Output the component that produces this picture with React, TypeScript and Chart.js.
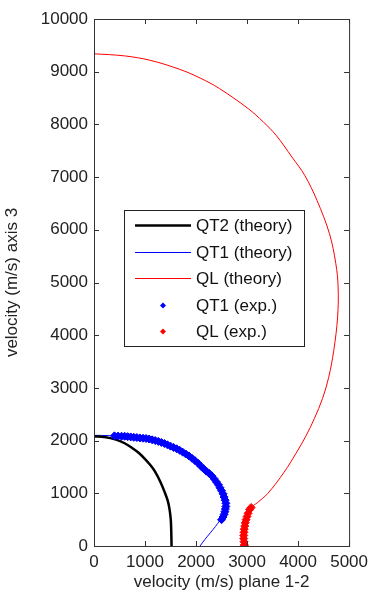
import { useEffect, useRef } from "react";
import { Chart, registerables } from "chart.js";

Chart.register(...registerables);

const xTicks = [0, 1000, 2000, 3000, 4000, 5000];
const yTicks = [0, 1000, 2000, 3000, 4000, 5000, 6000, 7000, 8000, 9000, 10000];

const qt2X = [0, 200, 431, 600, 748, 880, 1001, 1100, 1191, 1300, 1390, 1445, 1480, 1505, 1515, 1520];
const qt2Y = [2080, 2068, 2019, 1950, 1860, 1765, 1650, 1540, 1420, 1220, 1010, 860, 700, 500, 250, 0];

const qt1X = [0, 300, 621, 850, 1065, 1250, 1382, 1500, 1635, 1760, 1888, 2020, 2142, 2250, 2332, 2400, 2459, 2510, 2553, 2580, 2575, 2540, 2470, 2380, 2280, 2170, 2078];
const qt1Y = [2100, 2095, 2081, 2060, 2037, 1990, 1943, 1890, 1835, 1770, 1689, 1590, 1468, 1390, 1309, 1220, 1120, 1030, 930, 800, 690, 590, 490, 370, 250, 120, 0];

const qlX = [0, 600, 1101, 1677, 2080, 2460, 3022, 3319, 3570, 3880, 4130, 4370, 4615, 4740, 4785, 4775, 4700, 4600, 4480, 4320, 4150, 3960, 3726, 3409, 3200, 3093, 3010, 2965, 2950];
const qlY = [9340, 9300, 9216, 9046, 8880, 8679, 8300, 8046, 7793, 7381, 7034, 6560, 5928, 5359, 4915, 4345, 3713, 3200, 2800, 2420, 2080, 1760, 1400, 1000, 820, 740, 560, 300, 0];

const qt1ExpX = [400, 470, 540, 600, 660, 720, 780, 840, 900, 960, 1020, 1080, 1140, 1200, 1260, 1320, 1380, 1440, 1500, 1560, 1620, 1680, 1740, 1800, 1860, 1920, 1980, 2040, 2100, 2150, 2200, 2260, 2310, 2360, 2400, 2440, 2470, 2500, 2530, 2550, 2570, 2585, 2585, 2575, 2565, 2550, 2530, 2500];
const qt1ExpY = [2090, 2085, 2083, 2082, 2075, 2070, 2062, 2058, 2050, 2045, 2040, 2030, 2015, 2000, 1985, 1965, 1945, 1920, 1895, 1870, 1845, 1815, 1780, 1745, 1710, 1665, 1620, 1570, 1510, 1465, 1420, 1375, 1330, 1270, 1215, 1160, 1105, 1050, 990, 930, 870, 810, 750, 700, 650, 600, 550, 500];

const qlExpX = [3080, 3050, 3020, 3000, 2980, 2965, 2955, 2945, 2940, 2935, 2935, 2940, 2945, 2950];
const qlExpY = [730, 690, 620, 560, 500, 440, 380, 320, 260, 200, 140, 80, 20, 0];

const legendLabels = ["QT2 (theory)", "QT1 (theory)", "QL (theory)", "QT1 (exp.)", "QL (exp.)"];

const FONT = '"Liberation Sans", Arial, sans-serif';

const pts = (xs: number[], ys: number[]) => xs.map((x, i) => ({ x, y: ys[i] }));

export default function App() {
  const ref = useRef<HTMLCanvasElement | null>(null);
  useEffect(() => {
    document.body.style.margin = "0";
    const canvas = ref.current!;
    const framePlugin = {
      id: "frame",
      afterDatasetsDraw(chart: any) {
        const { ctx, chartArea: a, scales } = chart;
        ctx.save();
        ctx.strokeStyle = "#333";
        ctx.lineWidth = 1;
        ctx.strokeRect(a.left + 0.5, a.top + 0.5, a.right - a.left, a.bottom - a.top);
        const L = 5;
        ctx.beginPath();
        xTicks.forEach((t) => {
          const px = Math.round(scales.x.getPixelForValue(t)) + 0.5;
          ctx.moveTo(px, a.bottom);
          ctx.lineTo(px, a.bottom - L);
          ctx.moveTo(px, a.top);
          ctx.lineTo(px, a.top + L);
        });
        yTicks.forEach((t) => {
          const py = Math.round(scales.y.getPixelForValue(t)) + 0.5;
          ctx.moveTo(a.left, py);
          ctx.lineTo(a.left + L, py);
          ctx.moveTo(a.right, py);
          ctx.lineTo(a.right - L, py);
        });
        ctx.stroke();
        ctx.restore();
      },
      afterDraw(chart: any) {
        const { ctx, chartArea: a } = chart;
        const bx = a.left + 30;
        const by = a.top + 191;
        const bw = 180;
        const bh = 136;
        ctx.save();
        ctx.fillStyle = "#fff";
        ctx.fillRect(bx, by, bw, bh);
        ctx.strokeStyle = "#222";
        ctx.lineWidth = 1;
        ctx.strokeRect(bx + 0.5, by + 0.5, bw, bh);
        const ds = chart.data.datasets;
        ctx.font = `17px ${FONT}`;
        ctx.textBaseline = "middle";
        ctx.textAlign = "left";
        legendLabels.forEach((lab, i) => {
          const y = Math.round(by + 15 + i * 26.5) + 0.5;
          const d = ds[i];
          if (i < 3) {
            ctx.strokeStyle = d.borderColor;
            ctx.lineWidth = d.borderWidth;
            ctx.beginPath();
            ctx.moveTo(bx + 11, y);
            ctx.lineTo(bx + 67, y);
            ctx.stroke();
          } else {
            ctx.fillStyle = d.backgroundColor;
            ctx.beginPath();
            ctx.moveTo(bx + 39, y - 3);
            ctx.lineTo(bx + 42, y);
            ctx.lineTo(bx + 39, y + 3);
            ctx.lineTo(bx + 36, y);
            ctx.closePath();
            ctx.fill();
          }
          ctx.fillStyle = "#111";
          ctx.fillText(lab, bx + 72, y + 1);
        });
        ctx.restore();
      },
    };
    const tickFmt = (v: any) => String(v);
    const chart = new Chart(canvas, {
      type: "scatter",
      data: {
        datasets: [
          { label: legendLabels[0], data: pts(qt2X, qt2Y), showLine: true, borderColor: "#000000", backgroundColor: "#000000", borderWidth: 2.5, pointRadius: 0, tension: 0.35, order: 3 },
          { label: legendLabels[1], data: pts(qt1X, qt1Y), showLine: true, borderColor: "#0000ff", backgroundColor: "#0000ff", borderWidth: 1, pointRadius: 0, tension: 0.35, order: 4 },
          { label: legendLabels[2], data: pts(qlX, qlY), showLine: true, borderColor: "#ff0000", backgroundColor: "#ff0000", borderWidth: 1, pointRadius: 0, tension: 0.35, order: 5 },
          { label: legendLabels[3], data: pts(qt1ExpX, qt1ExpY), showLine: false, borderColor: "#0000ff", backgroundColor: "#0000ff", borderWidth: 1, pointStyle: "rectRot", pointRadius: 4, order: 1 },
          { label: legendLabels[4], data: pts(qlExpX, qlExpY), showLine: false, borderColor: "#ff0000", backgroundColor: "#ff0000", borderWidth: 1, pointStyle: "rectRot", pointRadius: 4, order: 2 },
        ],
      },
      options: {
        responsive: false,
        animation: false,
        layout: { padding: { top: 19, right: 17, left: 0, bottom: 0 } },
        plugins: { legend: { display: false }, tooltip: { enabled: false } },
        scales: {
          x: {
            type: "linear",
            min: 0,
            max: 5000,
            afterBuildTicks: (s: any) => { s.ticks = xTicks.map((v) => ({ value: v })); },
            afterFit: (s: any) => { s.height = 51; },
            grid: { display: false, drawTicks: false },
            border: { display: false },
            ticks: { color: "#222", font: { family: FONT, size: 17 }, padding: 6, maxRotation: 0, callback: tickFmt },
            title: { display: true, text: "velocity (m/s) plane 1-2", color: "#222", font: { family: FONT, size: 17 }, padding: { top: 2, bottom: 4 } },
          },
          y: {
            type: "linear",
            min: 0,
            max: 10000,
            afterBuildTicks: (s: any) => { s.ticks = yTicks.map((v) => ({ value: v })); },
            afterFit: (s: any) => { s.width = 94; },
            grid: { display: false, drawTicks: false },
            border: { display: false },
            ticks: { color: "#222", font: { family: FONT, size: 17 }, padding: 6, callback: tickFmt },
            title: { display: true, text: "velocity (m/s) axis 3", color: "#222", font: { family: FONT, size: 17 }, padding: { top: 2, bottom: 2 } },
          },
        },
      },
      plugins: [framePlugin],
    } as any);
    return () => chart.destroy();
  }, []);
  return <canvas ref={ref} width={374} height={597} style={{ display: "block", width: 374, height: 597 }} />;
}
